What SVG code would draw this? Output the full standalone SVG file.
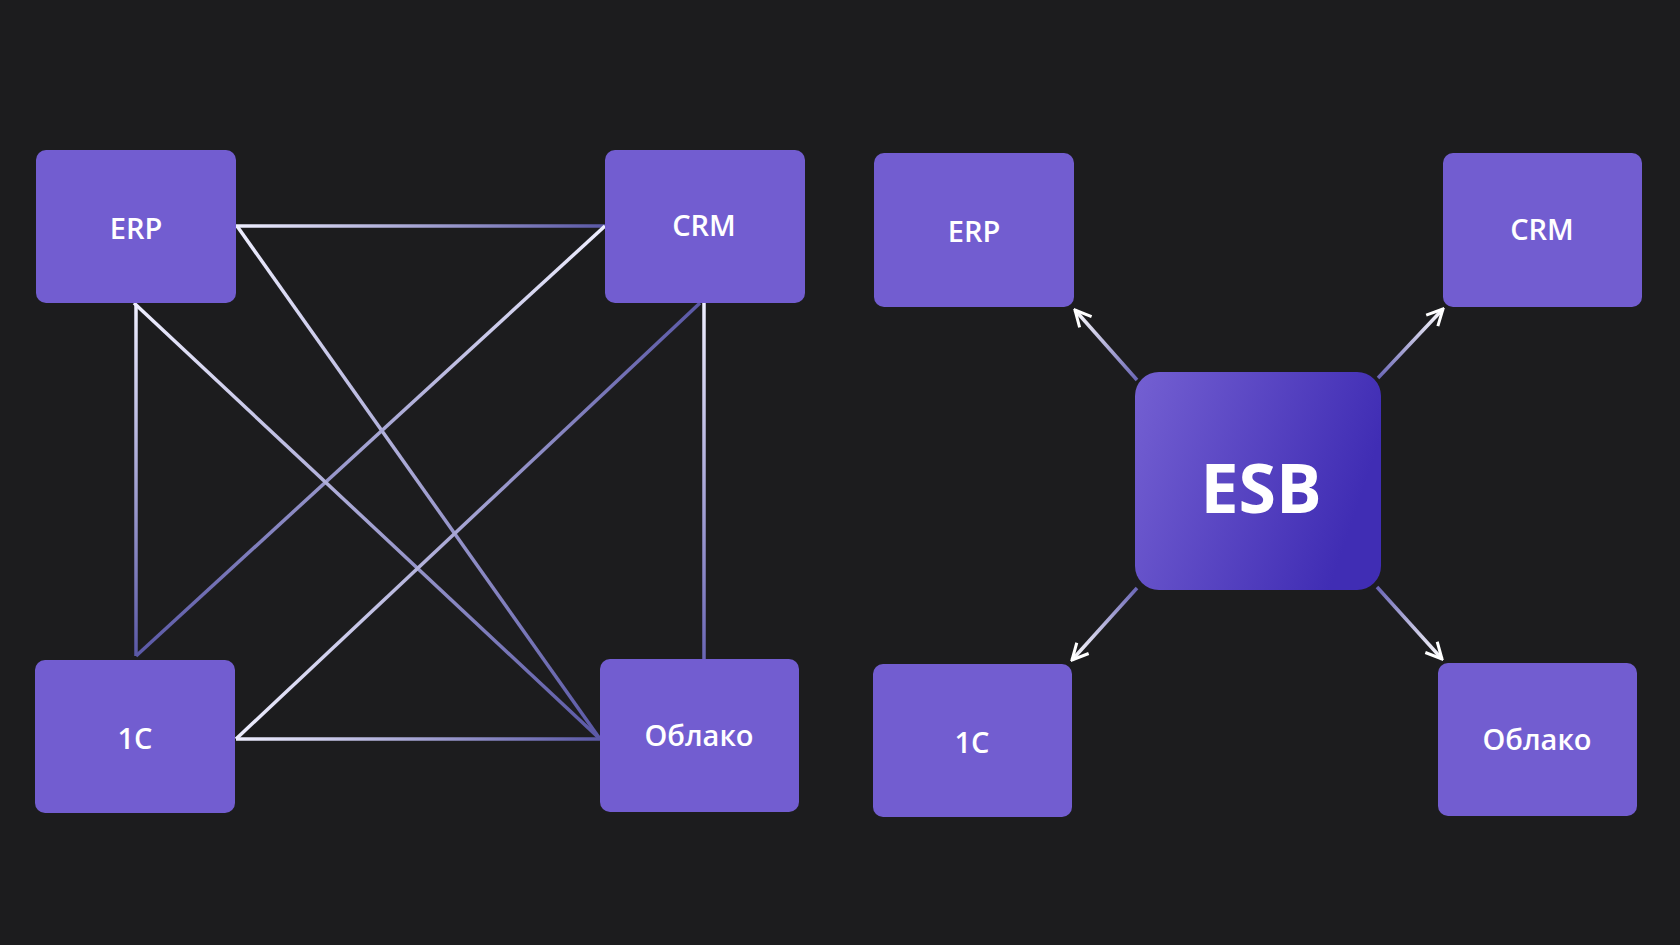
<svg xmlns="http://www.w3.org/2000/svg" width="1680" height="945" viewBox="0 0 1680 945">
<style>
.n{fill:#725dd0}
.t{fill:#fff;font-family:"Open Sans","DejaVu Sans",sans-serif;font-weight:600;font-size:29px;text-anchor:middle;dominant-baseline:central}
.c{stroke-width:3.5;fill:none}
</style>
<defs>
<linearGradient id="esb" x1="0" y1="0" x2="1" y2="0.3"><stop offset="0" stop-color="#7460d2"/><stop offset="1" stop-color="#402db4"/></linearGradient>
<marker id="ah" viewBox="0 0 20 20" refX="18" refY="10" markerWidth="20" markerHeight="20" markerUnits="userSpaceOnUse" orient="auto"><path d="M2,2 L18,10 L2,18" fill="none" stroke="#fff" stroke-width="3"/></marker>
<linearGradient id="g1" gradientUnits="userSpaceOnUse" x1="236" y1="226" x2="605" y2="226"><stop offset="0" stop-color="#eef"/><stop offset="1" stop-color="#5a58a6"/></linearGradient>
<linearGradient id="g2" gradientUnits="userSpaceOnUse" x1="237" y1="226" x2="600" y2="739"><stop offset="0" stop-color="#eef"/><stop offset="1" stop-color="#5a58a6"/></linearGradient>
<linearGradient id="g3" gradientUnits="userSpaceOnUse" x1="605" y1="226" x2="136" y2="656"><stop offset="0" stop-color="#eef"/><stop offset="1" stop-color="#5a58a6"/></linearGradient>
<linearGradient id="g4" gradientUnits="userSpaceOnUse" x1="134" y1="303" x2="600" y2="739"><stop offset="0" stop-color="#eef"/><stop offset="1" stop-color="#5a58a6"/></linearGradient>
<linearGradient id="g5" gradientUnits="userSpaceOnUse" x1="136" y1="305" x2="136" y2="656"><stop offset="0" stop-color="#eef"/><stop offset="1" stop-color="#5a58a6"/></linearGradient>
<linearGradient id="g6" gradientUnits="userSpaceOnUse" x1="700" y1="303" x2="236" y2="739"><stop offset="0" stop-color="#5a58a6"/><stop offset="1" stop-color="#eef"/></linearGradient>
<linearGradient id="g7" gradientUnits="userSpaceOnUse" x1="704" y1="303" x2="704" y2="659"><stop offset="0" stop-color="#eef"/><stop offset="1" stop-color="#6a66b6"/></linearGradient>
<linearGradient id="g8" gradientUnits="userSpaceOnUse" x1="236" y1="739" x2="600" y2="739"><stop offset="0" stop-color="#eef"/><stop offset="1" stop-color="#5a58a6"/></linearGradient>
<linearGradient id="a1" gradientUnits="userSpaceOnUse" x1="1137" y1="380" x2="1075" y2="310"><stop offset="0" stop-color="#6a66b6"/><stop offset="1" stop-color="#fff"/></linearGradient>
<linearGradient id="a2" gradientUnits="userSpaceOnUse" x1="1378" y1="378" x2="1443" y2="309"><stop offset="0" stop-color="#6a66b6"/><stop offset="1" stop-color="#fff"/></linearGradient>
<linearGradient id="a3" gradientUnits="userSpaceOnUse" x1="1137" y1="588" x2="1072" y2="660"><stop offset="0" stop-color="#6a66b6"/><stop offset="1" stop-color="#fff"/></linearGradient>
<linearGradient id="a4" gradientUnits="userSpaceOnUse" x1="1377" y1="587" x2="1442" y2="659"><stop offset="0" stop-color="#6a66b6"/><stop offset="1" stop-color="#fff"/></linearGradient>
</defs>
<rect width="1680" height="945" fill="#1c1c1e"/>
<g id="connectors">
<line class="c" x1="236" y1="226" x2="605" y2="226" stroke="url(#g1)"/>
<line class="c" x1="237" y1="226" x2="600" y2="739" stroke="url(#g2)"/>
<line class="c" x1="605" y1="226" x2="136" y2="656" stroke="url(#g3)"/>
<line class="c" x1="134" y1="303" x2="600" y2="739" stroke="url(#g4)"/>
<line class="c" x1="136" y1="305" x2="136" y2="656" stroke="url(#g5)"/>
<line class="c" x1="700" y1="303" x2="236" y2="739" stroke="url(#g6)"/>
<line class="c" x1="704" y1="303" x2="704" y2="659" stroke="url(#g7)"/>
<line class="c" x1="236" y1="739" x2="600" y2="739" stroke="url(#g8)"/>
<line class="c" x1="1137" y1="380" x2="1075" y2="310" stroke="url(#a1)" marker-end="url(#ah)"/>
<line class="c" x1="1378" y1="378" x2="1443" y2="309" stroke="url(#a2)" marker-end="url(#ah)"/>
<line class="c" x1="1137" y1="588" x2="1072" y2="660" stroke="url(#a3)" marker-end="url(#ah)"/>
<line class="c" x1="1377" y1="587" x2="1442" y2="659" stroke="url(#a4)" marker-end="url(#ah)"/>
</g>
<g id="l-erp"><rect class="n" x="36" y="150" width="200" height="153" rx="10"/><text class="t" x="136" y="227">ERP</text></g>
<g id="l-crm"><rect class="n" x="605" y="150" width="200" height="153" rx="10"/><text class="t" x="704" y="224">CRM</text></g>
<g id="l-1c"><rect class="n" x="35" y="660" width="200" height="153" rx="10"/><text class="t" x="135" y="737">1C</text></g>
<g id="l-oblako"><rect class="n" x="600" y="659" width="199" height="153" rx="10"/><text class="t" x="699" y="734">Облако</text></g>
<g id="r-erp"><rect class="n" x="874" y="153" width="200" height="154" rx="10"/><text class="t" x="974" y="230">ERP</text></g>
<g id="r-crm"><rect class="n" x="1443" y="153" width="199" height="154" rx="10"/><text class="t" x="1542" y="228">CRM</text></g>
<g id="r-1c"><rect class="n" x="873" y="664" width="199" height="153" rx="10"/><text class="t" x="972" y="741">1C</text></g>
<g id="r-oblako"><rect class="n" x="1438" y="663" width="199" height="153" rx="10"/><text class="t" x="1537" y="738">Облако</text></g>
<g id="esb"><rect x="1135" y="372" width="246" height="218" rx="24" fill="url(#esb)"/><text class="t" x="1261" y="486" style="font-size:68px;font-weight:700">ESB</text></g>
</svg>
